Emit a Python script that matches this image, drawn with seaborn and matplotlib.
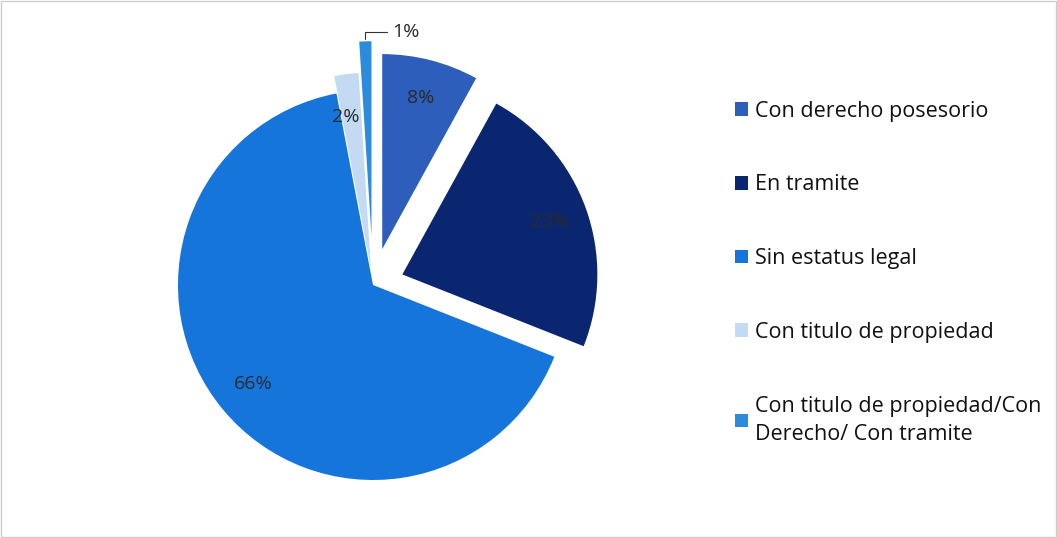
import numpy as np
import matplotlib
matplotlib.use("Agg")
import matplotlib.pyplot as plt
import seaborn as sns

categories = ["Con derecho posesorio", "En tramite", "Sin estatus legal",
              "Con titulo de propiedad", "Con titulo de propiedad/Con\nDerecho/ Con tramite"]
values = [8, 23, 66, 2, 1]
colors = ["#2D5EBC", "#0B2670", "#1675DA", "#C3DAF2", "#2B8BDC"]
explode = [0.19, 0.16, 0.0, 0.09, 0.25]

sns.set_theme(style="white")
plt.rcParams["font.family"] = ["Open Sans", "DejaVu Sans"]

fig = plt.figure(figsize=(10.57, 5.38), dpi=100)
ax = fig.add_axes([0, 0, 746 / 1057, 1])

wedges, texts, autotexts = ax.pie(values, colors=colors, explode=explode, startangle=90,
                                  counterclock=False, autopct="%1.0f%%", pctdistance=0.8,
                                  wedgeprops=dict(linewidth=0),
                                  textprops=dict(fontsize=14, color="#2a2a2a"))

# small slice label goes outside with a leader line
w = wedges[4]
ang = np.deg2rad((w.theta1 + w.theta2) / 2)
cx, cy = w.center
tip = (cx + w.r * np.cos(ang), cy + w.r * np.sin(ang))
autotexts[4].set_visible(False)
ax.annotate("1%", xy=tip, xytext=(tip[0] + 0.14, tip[1] + 0.05), fontsize=14, color="#2a2a2a",
            ha="left", va="center",
            arrowprops=dict(arrowstyle="-", color="#333333", lw=0.8,
                            connectionstyle="angle,angleA=0,angleB=90"))
px, py = autotexts[3].get_position()
autotexts[3].set_position((px - 0.03, py - 0.02))

ax.set_xlim(-373 / 195, 373 / 195)
ax.set_ylim(-253 / 195, 285 / 195)
ax.set_aspect("auto")

leg = fig.legend(wedges, categories, loc="upper left", bbox_to_anchor=(726 / 1057, 1 - 92 / 538),
                 frameon=False, fontsize=15.5, labelspacing=2.45, handlelength=0.6, handleheight=0.6,
                 handletextpad=0.35, borderaxespad=0)
for t in leg.get_texts():
    t.set_color("#111111")
    t.set_linespacing(1.45)

fig.patches.append(plt.Rectangle((0.001, 0.001), 0.998, 0.998, transform=fig.transFigure,
                                 fill=False, edgecolor="#cccccc", linewidth=1))

fig.savefig("out.png", dpi=100)
